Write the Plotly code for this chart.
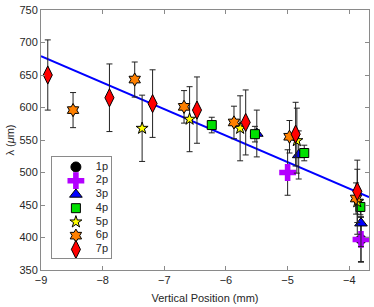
import plotly.graph_objects as go

# ---- data ----
p1_x = [-3.81]
p1_y = [397]
p1_e = [35]

p2_x = [-5.00, -3.81]
p2_y = [500, 397]
p2_e = [35, 34]

p3_x = [-5.50, -4.82, -3.81]
p3_y = [560, 527, 422]
p3_e = [36, 37, 36]

p4_x = [-6.23, -5.53, -4.73, -3.82]
p4_y = [573, 559, 530, 447]
p4_e = [12, 12, 12, 12]

p5_x = [-7.36, -6.59, -5.77, -4.85, -3.87]
p5_y = [568, 582, 568, 549, 455]
p5_e = [51, 50, 50, 50, 50]

p6_x = [-8.48, -7.48, -6.68, -5.87, -4.97, -3.89]
p6_y = [596, 643, 601, 577, 555, 460]
p6_e = [27, 27, 25, 25, 25, 24]

p7_x = [-8.89, -7.89, -7.19, -6.47, -5.68, -4.87, -3.87]
p7_y = [650, 615, 606, 596, 577, 559, 471]
p7_e = [54, 52, 52, 51, 50, 49, 48]

fit_x = [-9.0, -3.68]
fit_y = [679, 462]

series_names = ["1p", "2p", "3p", "4p", "5p", "6p", "7p"]
x_ticks = [-9, -8, -7, -6, -5, -4]
y_ticks = [350, 400, 450, 500, 550, 600, 650, 700, 750]

FONT = "Liberation Sans, Arial, sans-serif"
TXT = "#262626"
AXC = "#8a8a8a"

styles = [
    dict(symbol="circle", color="#000000", size=10, line=dict(color="#000000", width=1)),
    dict(symbol="cross", color="#B300FF", size=14, line=dict(color="#B300FF", width=0)),
    dict(symbol="triangle-up", color="#0000FF", size=11, line=dict(color="#000000", width=1)),
    dict(symbol="square", color="#00E000", size=9, line=dict(color="#000000", width=1)),
    dict(symbol="star", color="#FFFF00", size=9, line=dict(color="#000000", width=1)),
    dict(symbol="hexagram", color="#FF8000", size=10, line=dict(color="#000000", width=1)),
    dict(symbol="diamond-tall", color="#FF0000", size=13, line=dict(color="#000000", width=1)),
]
data = [(p1_x, p1_y, p1_e), (p2_x, p2_y, p2_e), (p3_x, p3_y, p3_e),
        (p4_x, p4_y, p4_e), (p5_x, p5_y, p5_e), (p6_x, p6_y, p6_e),
        (p7_x, p7_y, p7_e)]

fig = go.Figure()

fig.add_trace(go.Scatter(
    x=fit_x, y=fit_y, mode="lines",
    line=dict(color="#0000FF", width=2),
    showlegend=False, hoverinfo="skip",
))

for name, (xs, ys, es), st in zip(series_names, data, styles):
    fig.add_trace(go.Scatter(
        x=xs, y=ys, name=name, mode="markers", showlegend=False,
        marker=st,
        error_y=dict(type="data", array=es, visible=True,
                     color="#222222", thickness=1, width=3),
    ))

# ---- inset legend box (drawn on its own small axes) ----
for i, (name, st) in enumerate(zip(series_names, styles)):
    fig.add_trace(go.Scatter(
        x=[24], y=[i], mode="markers", marker=st,
        xaxis="x2", yaxis="y2", showlegend=False, hoverinfo="skip",
    ))
fig.add_trace(go.Scatter(
    x=[44] * len(series_names), y=list(range(len(series_names))),
    mode="text", text=series_names, textposition="middle right",
    textfont=dict(family=FONT, size=11, color=TXT),
    xaxis="x2", yaxis="y2", showlegend=False, hoverinfo="skip",
))

axis_common = dict(
    showgrid=False, zeroline=False,
    showline=True, linecolor=AXC, linewidth=1,
    mirror="ticks", ticks="inside", ticklen=4, tickcolor=AXC,
    tickfont=dict(family=FONT, size=11, color=TXT),
    ticklabeloverflow="allow",
)

fig.update_layout(
    width=374, height=307,
    margin=dict(l=41, r=4, t=5, b=37),
    paper_bgcolor="white", plot_bgcolor="white",
    showlegend=False,
    xaxis=dict(range=[-9, -3.68], tickvals=x_ticks,
               title=dict(text="Vertical Position (mm)", standoff=9,
                          font=dict(family=FONT, size=11, color=TXT)),
               **axis_common),
    yaxis=dict(range=[350, 750], tickvals=y_ticks,
               title=dict(text="λ (<i>μ</i>m)", standoff=2,
                          font=dict(family=FONT, size=11, color=TXT)),
               **axis_common),
    xaxis2=dict(domain=[0.0334, 0.2128], range=[0, 59], anchor="y2",
                showgrid=False, zeroline=False, showticklabels=False, ticks="",
                showline=True, linecolor=AXC, linewidth=1, mirror=True, fixedrange=True),
    yaxis2=dict(domain=[0.0453, 0.434], range=[6.643, -0.714], anchor="x2",
                showgrid=False, zeroline=False, showticklabels=False, ticks="",
                showline=True, linecolor=AXC, linewidth=1, mirror=True, fixedrange=True),
)

fig.write_html("out.html", config={"displayModeBar": False},
               post_script="document.body.style.margin='0';document.body.style.padding='0';")
